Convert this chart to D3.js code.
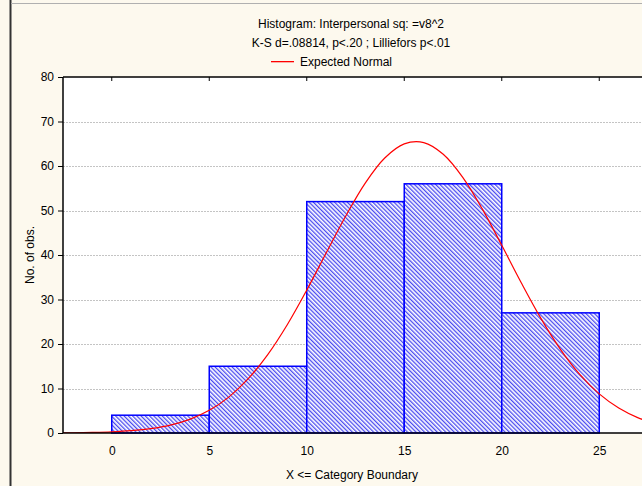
<!DOCTYPE html>
<html><head><meta charset="utf-8">
<script src="https://cdn.jsdelivr.net/npm/d3@7"></script>
<style>
html,body{margin:0;padding:0;background:#fdf9ee;}
svg{display:block;font-family:"Liberation Sans",Arial,sans-serif;}
</style></head>
<body><svg id="c" width="642" height="486"></svg>
<script>
// Data
const binStarts = [0, 5, 10, 15, 20];
const binEnds = [5, 10, 15, 20, 25];
const counts = [4, 15, 52, 56, 27];
const xTicks = [0, 5, 10, 15, 20, 25];
const yTicks = [0, 10, 20, 30, 40, 50, 60, 70, 80];
// Expected normal curve values
const curveX = [-3,-2,-1,0,1,2,3,4,5,6,7,8,9,10,11,12,13,14,15,16,17,18,19,20,21,22,23,24,25,26,27,28];
const curveY = [0.03,0.06,0.13,0.26,0.52,0.98,1.77,3.07,5.09,8.06,12.2,17.62,24.33,32.11,40.49,48.78,56.17,61.8,64.97,65.26,62.64,57.46,50.36,42.18,33.76,25.81,18.86,13.17,8.79,5.61,3.41,1.99];
const titleLines = ["Histogram: Interpersonal sq: =v8^2", "K-S d=.08814, p<.20 ; Lilliefors p<.01"];
const legendLabel = "Expected Normal";
const xLabel = "X <= Category Boundary";
const yLabel = "No. of obs.";

const svg = d3.select("#c");
const L = 63, T = 77, B = 433, R = 648;
const x = d3.scaleLinear().domain([-2.5, 27.5]).range([L, R]);
const y = d3.scaleLinear().domain([0, 80]).range([B, T]);

// frame
svg.append("line").attr("x1",10.5).attr("x2",10.5).attr("y1",0).attr("y2",486).attr("stroke","#333").attr("stroke-width",2);
svg.append("line").attr("x1",11).attr("x2",642).attr("y1",3.5).attr("y2",3.5).attr("stroke","#b0b0b0").attr("stroke-width",1);

const defs = svg.append("defs");
const pat = defs.append("pattern").attr("id","hatch").attr("patternUnits","userSpaceOnUse")
  .attr("width",3).attr("height",3).attr("patternTransform","rotate(-45)");
pat.append("rect").attr("width",3).attr("height",3).attr("fill","#ffffff");
pat.append("rect").attr("width",1.3).attr("height",3).attr("fill","#4a4af0");
defs.append("clipPath").attr("id","clip").append("rect").attr("x",L).attr("y",T).attr("width",R-L).attr("height",B-T);

// plot bg
svg.append("rect").attr("x",L).attr("y",T).attr("width",R-L).attr("height",B-T).attr("fill","#fff");

// grid
svg.append("g").selectAll("line").data(yTicks.filter(d=>d>0 && d<80)).join("line")
  .attr("x1",L).attr("x2",R).attr("y1",d=>Math.round(y(d))+0.5).attr("y2",d=>Math.round(y(d))+0.5)
  .attr("stroke","#c4c4c4").attr("stroke-dasharray","2,1");

// bars
svg.append("g").selectAll("rect").data(counts).join("rect")
  .attr("x",(d,i)=>x(binStarts[i])).attr("width",(d,i)=>x(binEnds[i])-x(binStarts[i]))
  .attr("y",d=>y(d)).attr("height",d=>B-y(d))
  .attr("fill","url(#hatch)").attr("stroke","#0000ff").attr("stroke-width",1.5);

// curve
const line = d3.line().x((d,i)=>x(curveX[i])).y(d=>y(d)).curve(d3.curveCatmullRom);
svg.append("path").datum(curveY).attr("d",line).attr("fill","none").attr("stroke","#ff0000")
  .attr("stroke-width",1.2).attr("clip-path","url(#clip)");

// axes
const yAxis = d3.axisLeft(y).tickValues(yTicks).tickSize(5).tickPadding(4);
const gy = svg.append("g").attr("transform",`translate(${L},0)`).call(yAxis);
const xAxis = d3.axisBottom(x).tickValues(xTicks).tickSize(0).tickPadding(13);
const gx = svg.append("g").attr("transform",`translate(0,${B})`).call(xAxis);
[gy,gx].forEach(g=>{
  g.select(".domain").remove();
  g.selectAll("text").attr("font-size",12).attr("fill","#000").attr("font-family","Liberation Sans, Arial, sans-serif");
  g.selectAll("line").attr("stroke","#000");
});
// top ticks inside
svg.append("g").selectAll("line").data(xTicks).join("line")
  .attr("x1",d=>x(d)).attr("x2",d=>x(d)).attr("y1",T).attr("y2",T+4).attr("stroke","#000");
// borders
svg.append("line").attr("x1",L).attr("x2",R).attr("y1",T).attr("y2",T).attr("stroke","#000").attr("stroke-width",1.5);
svg.append("line").attr("x1",L).attr("x2",R).attr("y1",B).attr("y2",B).attr("stroke","#000").attr("stroke-width",1.5);
svg.append("line").attr("x1",L).attr("x2",L).attr("y1",T).attr("y2",B).attr("stroke","#000").attr("stroke-width",1.5);

// titles
svg.selectAll(".title").data(titleLines).join("text").attr("class","title")
  .attr("x",351).attr("y",(d,i)=>28+i*19).attr("text-anchor","middle").attr("font-size",12).text(d=>d);
svg.append("rect").attr("x",271).attr("y",61).attr("width",23).attr("height",1.3).attr("fill","#ff0000");
svg.append("text").attr("x",300).attr("y",66).attr("font-size",12).text(legendLabel);

svg.append("text").attr("x",352).attr("y",479).attr("text-anchor","middle").attr("font-size",12).text(xLabel);
svg.append("text").attr("transform","translate(34,255) rotate(-90)").attr("text-anchor","middle").attr("font-size",12).text(yLabel);
</script></body></html>
